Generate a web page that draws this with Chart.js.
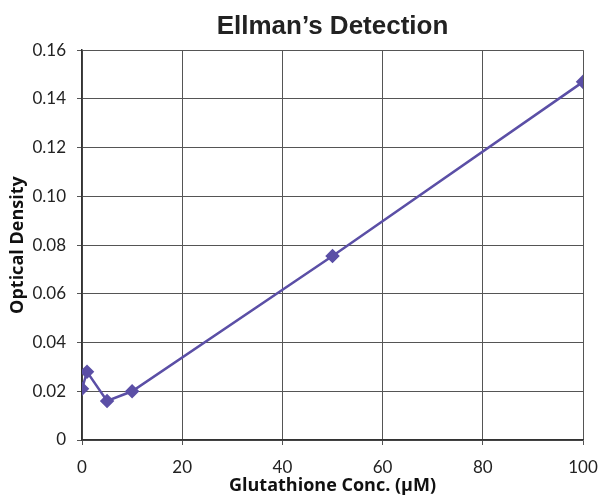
<!DOCTYPE html>
<html>
<head>
<meta charset="utf-8">
<script src="https://cdn.jsdelivr.net/npm/chart.js@4"></script>
<style>
  body { margin: 0; background: #fff; }
  #wrap { width: 598px; height: 495px; }
</style>
</head>
<body>
<div id="wrap"><canvas id="myChart" width="598" height="495"></canvas></div>
<script>
// glutathione concentration (uM) and optical density
var conc = [0, 1, 5, 10, 50, 100]
var density = [0.021, 0.028, 0.016, 0.020, 0.0755, 0.147]
var xTicks = [0, 20, 40, 60, 80, 100]
var yTicks = ['0', '0.02', '0.04', '0.06', '0.08', '0.10', '0.12', '0.14', '0.16']

var pontos = []
for (var i = 0; i < conc.length; i++) {
    pontos.push({ x: conc[i], y: density[i] })
}

const ctx = document.getElementById('myChart');
new Chart(ctx, {
    type: 'scatter',
    data: {
        datasets: [{
            label: 'Optical Density',
            data: pontos,
            showLine: true,
            borderColor: '#5b4fa6',
            backgroundColor: '#5b4fa6',
            borderWidth: 2.5,
            pointStyle: 'rectRot',
            pointRadius: 5.5,
            pointHoverRadius: 5.5,
            tension: 0
        }]
    },
    options: {
        responsive: false,
        animation: false,
        layout: { padding: 0 },
        plugins: {
            legend: { display: false },
            tooltip: { enabled: false },
            title: {
                display: true,
                fullSize: false,
                text: 'Ellman\u2019s Detection',
                color: '#222',
                font: { family: 'Liberation Sans', size: 26, weight: 'bold' },
                padding: { top: 11, bottom: 8 }
            }
        },
        scales: {
            x: {
                type: 'linear',
                min: 0,
                max: 100,
                afterBuildTicks: function (scale) {
                    scale.ticks = xTicks.map(function (v) { return { value: v } })
                },
                afterFit: function (scale) {
                    scale.height = 55
                    scale.paddingRight = 15
                },
                grid: { color: '#555', lineWidth: 1, tickLength: 5 },
                border: { color: '#333', width: 1.5 },
                ticks: {
                    color: '#222',
                    padding: 12,
                    maxRotation: 0,
                    font: { family: 'Lato', size: 17 }
                },
                title: {
                    display: true,
                    text: 'Glutathione Conc. (\u03bcM)',
                    color: '#111',
                    font: { family: 'Open Sans', size: 18, weight: 'bold', lineHeight: 1 },
                    padding: { top: 0, bottom: 0 }
                }
            },
            y: {
                min: 0,
                max: 0.16,
                afterBuildTicks: function (scale) {
                    scale.ticks = yTicks.map(function (t) { return { value: parseFloat(t) } })
                },
                afterFit: function (scale) { scale.width = 82 },
                grid: { color: '#555', lineWidth: 1, tickLength: 5 },
                border: { color: '#333', width: 1.5 },
                ticks: {
                    color: '#222',
                    padding: 11,
                    font: { family: 'Lato', size: 17 },
                    callback: function (value, index) { return yTicks[index] }
                },
                title: {
                    display: true,
                    text: 'Optical Density',
                    color: '#111',
                    font: { family: 'Open Sans', size: 18, weight: 'bold' },
                    padding: { top: 7, bottom: 0 }
                }
            }
        }
    }
})
</script>
</body>
</html>
